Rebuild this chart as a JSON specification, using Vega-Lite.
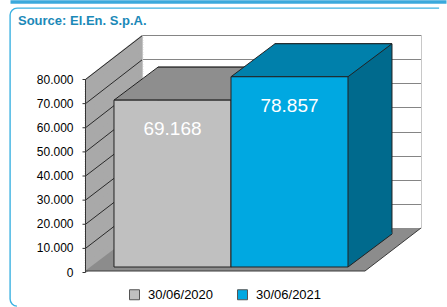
{
  "$schema": "https://vega.github.io/schema/vega-lite/v6.json",
  "width": 436,
  "height": 298,
  "autosize": {"type": "none"},
  "padding": {"left": 10, "top": 8, "right": 1, "bottom": 1},
  "background": "white",
  "title": {"text": "Source: El.En. S.p.A.", "anchor": "start", "frame": "group", "font": "Liberation Sans", "fontSize": 13, "fontWeight": "bold", "color": "#1b89b8", "dx": 8, "dy": 30.5},
  "data": {"values": [
    {"period": "30/06/2020", "value": 69168},
    {"period": "30/06/2021", "value": 78857}
  ]},
  "encoding": {
    "x": {"field": "period", "type": "nominal", "sort": null,
      "scale": {"paddingInner": 0, "paddingOuter": 0.86325, "align": 0.51485},
      "axis": {"orient": "top", "offset": 6.5, "domainWidth": 3.5, "domainColor": "#3aa9dc", "ticks": false, "labels": false, "title": null, "grid": false}}
  },
  "layer": [
    {
      "transform": [{"filter": "datum.period === '30/06/2020'"}],
      "mark": {"type": "point", "shape": "M-0.305,0L2.485,0L1.925,0.43L-0.875,0.43Z", "size": 40000, "filled": true, "fill": "#8c8c8c", "strokeWidth": 0, "opacity": 1},
      "encoding": {
        "y": {"datum": 0, "type": "quantitative",
          "scale": {"domain": [0, 80000], "range": [220, 27], "nice": false, "zero": true},
          "axis": {"orient": "left", "offset": -132, "values": [500,1500,2500,3500,4500,5500,6500,7500,8500,9500,10500,11500,12500,13500,14500,15500,16500,17500,18500,19500,20500,21500,22500,23500,24500,25500,26500,27500,28500,29500,30500,31500,32500,33500,34500,35500,36500,37500,38500,39500,40500,41500,42500,43500,44500,45500,46500,47500,48500,49500,50500,51500,52500,53500,54500,55500,56500,57500,58500,59500,60500,61500,62500,63500,64500,65500,66500,67500,68500,69500,70500,71500,72500,73500,74500,75500,76500,77500,78500,79500],
            "tickSize": 57, "tickWidth": 3, "tickColor": "#a9a9a9", "domain": false, "labels": false, "grid": false, "title": null,
            "encoding": {"ticks": {"y2": {"value": {"expr": "scale('y', datum.value) + 44"}}}}}}
      }
    },
    {
      "transform": [{"filter": "datum.period === '30/06/2020'"}],
      "mark": {"type": "point", "shape": "M-0.875,0.43L1.925,0.43L2.485,0", "size": 40000, "filled": false, "stroke": "#3a3a3a", "strokeWidth": 1, "opacity": 1},
      "encoding": {
        "y": {"datum": 0, "type": "quantitative",
          "axis": {"orient": "right", "offset": -25, "values": [10000,20000,30000,40000,50000,60000,70000,80000], "tickSize": -279, "tickColor": "#858585", "tickWidth": 1.2, "domainColor": "#c8c8c8", "domainWidth": 1, "labels": false, "grid": false, "title": null}}
      }
    },
    {
      "mark": {"type": "bar", "xOffset": 44, "x2Offset": 44, "yOffset": 6, "y2Offset": 6, "stroke": "#222222", "strokeWidth": 1},
      "encoding": {
        "y": {"field": "value", "type": "quantitative",
          "axis": {"orient": "left", "offset": -132, "values": [10000,20000,30000,40000,50000,60000,70000,80000], "tickSize": 57, "tickColor": "#2a2a2a", "tickWidth": 1, "domainColor": "#c4c4c4", "labels": false, "grid": false, "title": null,
            "encoding": {"ticks": {"y2": {"value": {"expr": "scale('y', datum.value) + 44"}}}}}},
        "fill": {"condition": {"test": "datum.period === '30/06/2020'", "value": "#707070"}, "value": "#006a8d"}
      }
    },
    {
      "mark": {"type": "point", "shape": "M0.585,0L1.025,-0.33L1.025,-0.345L0.585,-0.345Z", "size": 40000, "filled": true, "strokeWidth": 0, "opacity": 1, "yOffset": 39},
      "encoding": {
        "y": {"datum": 0, "type": "quantitative",
          "axis": {"orient": "left", "offset": -75, "values": [0,10000,20000,30000,40000,50000,60000,70000,80000], "format": ",d", "tickSize": 3, "tickColor": "#333333", "domainColor": "#333333", "labelPadding": 9, "labelOffset": 44, "labelFontSize": 12, "labelColor": "#000000", "labelFont": "Liberation Sans", "grid": false, "title": null,
            "encoding": {
              "ticks": {"y": {"value": {"expr": "scale('y', datum.value) + 44"}}, "y2": {"value": {"expr": "scale('y', datum.value) + 44"}}},
              "domain": {"y": {"value": {"expr": "scale('y', 80000) + 44"}}, "y2": {"value": {"expr": "scale('y', 0) + 44"}}}
            }}},
        "fill": {"condition": {"test": "datum.period === '30/06/2020'", "value": "#707070"}, "value": "#006a8d"}
      }
    },
    {
      "mark": {"type": "point", "shape": "M0.585,0L1.025,-0.33", "size": 40000, "filled": false, "stroke": "#222222", "strokeWidth": 1, "opacity": 1, "yOffset": 39},
      "encoding": {
        "y": {"datum": 0, "type": "quantitative", "axis": null}
      }
    },
    {
      "mark": {"type": "point", "shape": "M-0.585,0L0.585,0L1.025,-0.33L-0.145,-0.33Z", "size": 40000, "filled": true, "stroke": "#222222", "strokeWidth": 1, "opacity": 1, "yOffset": 39},
      "encoding": {
        "y": {"field": "value", "type": "quantitative", "axis": null},
        "fill": {"condition": {"test": "datum.period === '30/06/2020'", "value": "#8e8e8e"}, "value": "#0080ab"}
      }
    },
    {
      "mark": {"type": "bar", "yOffset": 39, "y2Offset": 39, "stroke": "#222222", "strokeWidth": 1},
      "encoding": {
        "y": {"field": "value", "type": "quantitative", "axis": null},
        "color": {"field": "period", "type": "nominal", "sort": null,
          "scale": {"range": ["#c0c0c0", "#00a8e1"]},
          "legend": {"orient": "none", "legendX": 118, "legendY": 280, "direction": "horizontal", "title": null, "symbolType": "square", "symbolSize": 100, "symbolStrokeColor": "#555555", "symbolStrokeWidth": 1, "labelFontSize": 13, "labelFont": "Liberation Sans", "labelColor": "#000000", "labelOffset": 7, "columnPadding": 21, "padding": 0}}
      }
    },
    {
      "mark": {"type": "text", "yOffset": 68, "fontSize": 19, "font": "Liberation Sans", "fill": "#ffffff", "baseline": "middle", "align": "center"},
      "encoding": {
        "y": {"field": "value", "type": "quantitative", "axis": null},
        "text": {"field": "value", "type": "quantitative", "format": ",d"}
      }
    }
  ],
  "resolve": {"axis": {"y": "independent"}},
  "config": {
    "font": "Liberation Sans",
    "locale": {"number": {"decimal": ",", "thousands": ".", "grouping": [3], "currency": ["", " €"]}},
    "view": {"stroke": "#3db2e2", "strokeWidth": 1.4, "cornerRadius": 7, "strokeDash": [422, 728, 310, 0], "fill": "white"}
  }
}
